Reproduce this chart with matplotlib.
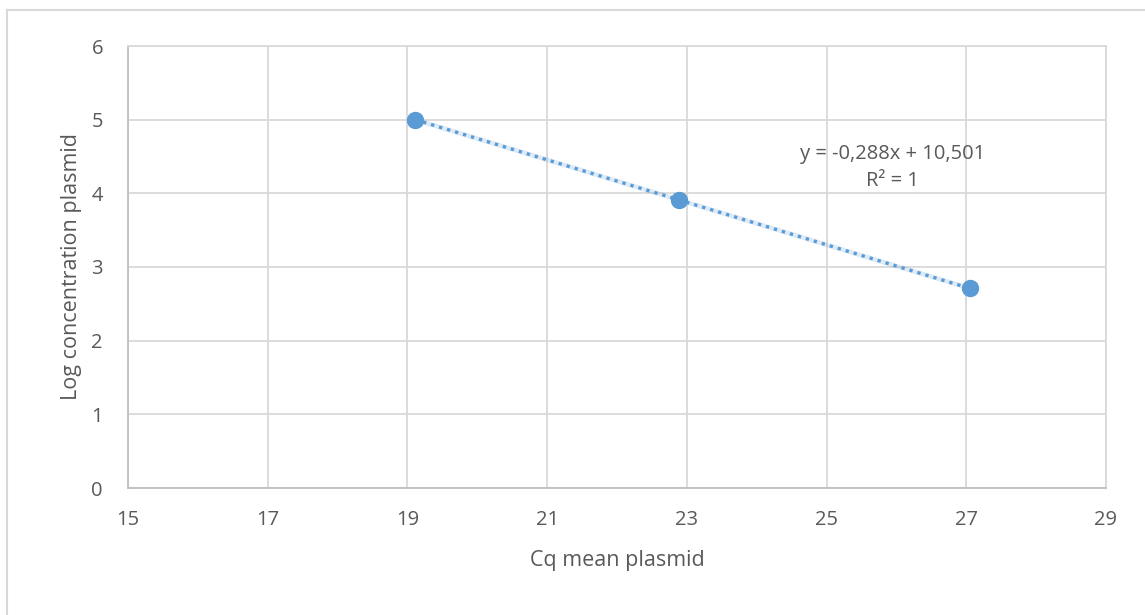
import numpy as np
import matplotlib
matplotlib.use('Agg')
import matplotlib.pyplot as plt
from matplotlib.lines import Line2D

cq_mean = [19.11, 22.89, 27.05]
log_conc = [5.0, 3.91, 2.71]
x_ticks = [15, 17, 19, 21, 23, 25, 27, 29]
y_ticks = [0, 1, 2, 3, 4, 5, 6]

plt.rcParams['font.family'] = ['Open Sans', 'DejaVu Sans']
text_col = '#595959'
blue = '#5B9BD5'

fig = plt.figure(figsize=(11.45, 6.15), dpi=100)
ax = fig.add_axes([128/1145, 1-488/615, (1106-128)/1145, (488-46)/615])

# linear trendline over the data range
slope, intercept = np.polyfit(cq_mean, log_conc, 1)
xs = np.array([min(cq_mean), max(cq_mean)])
ax.plot(xs, slope*xs + intercept, color=blue, alpha=0.2, linewidth=3.4, zorder=2)
ax.plot(xs, slope*xs + intercept, color=blue, linestyle=(0, (1, 1.5)), linewidth=2.4, zorder=3)
ax.plot(cq_mean, log_conc, 'o', color=blue, markersize=11.5, zorder=4)

ax.set_xlim(15, 29)
ax.set_ylim(0, 6)
ax.set_xticks(x_ticks)
ax.set_yticks(y_ticks)
ax.grid(True, color='#d9d9d9', linewidth=1.3)
ax.set_axisbelow(True)
for s in ['top', 'right']:
    ax.spines[s].set_color('#d9d9d9')
    ax.spines[s].set_linewidth(1.3)
for s in ['left', 'bottom']:
    ax.spines[s].set_color('#bfbfbf')
    ax.spines[s].set_linewidth(1.3)
ax.tick_params(length=0, labelsize=14.5, colors=text_col)
ax.tick_params(axis='y', pad=18)
ax.tick_params(axis='x', pad=16)
ax.set_xlabel('Cq mean plasmid', fontsize=15.5, color=text_col, labelpad=14)
ax.set_ylabel('Log concentration plasmid', fontsize=15.5, color=text_col, labelpad=7)

ax.text(25.95, 4.35, 'y = -0,288x + 10,501\nR² = 1', ha='center', va='center',
        fontsize=14.5, color=text_col, linespacing=1.5)

# outer chart border
fig.add_artist(Line2D([7/1145, 7/1145], [0, 1-10/615], color='#d9d9d9', linewidth=1.5))
fig.add_artist(Line2D([7/1145, 1], [1-10/615, 1-10/615], color='#d9d9d9', linewidth=1.5))

fig.savefig('out.png', dpi=100)
